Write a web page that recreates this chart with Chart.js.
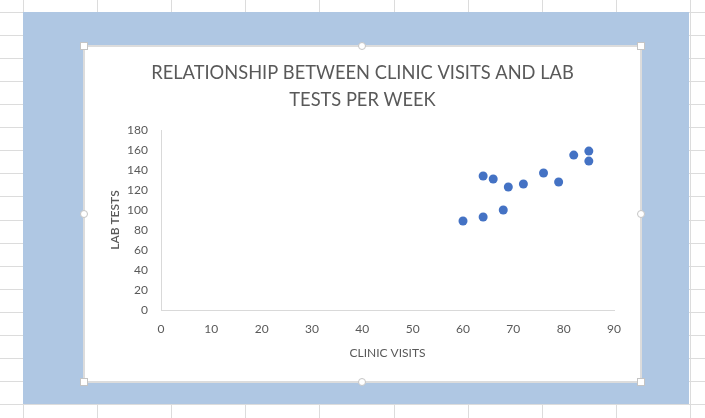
<!DOCTYPE html>
<html>
<head>
<meta charset="utf-8">
<script src="https://cdn.jsdelivr.net/npm/chart.js@4"></script>
<style>
  html, body { margin: 0; padding: 0; }
  body { width: 705px; height: 418px; position: relative; overflow: hidden; background: #fff; }
  .gl { position: absolute; background: #dcdcdc; }
  #blue { position: absolute; left: 23px; top: 12px; width: 666px; height: 392px; background: #afc7e3; }
  #box { position: absolute; left: 84px; top: 46px; width: 557px; height: 336px; background: #fff; }
  #frame { position: absolute; left: 83px; top: 45px; width: 555px; height: 334px; border: 2px solid #dcdcdc; pointer-events: none; }
  .h { position: absolute; width: 6px; height: 6px; background: #fff; border: 1px solid #c4c4c4; }
  .h.c { border-radius: 50%; }
  canvas { position: absolute; left: 0; top: 0; }
</style>
</head>
<body>
<div id="blue"></div>
<div id="box"><canvas id="scatterChart" width="557" height="336"></canvas></div>
<div id="frame"></div>
<script>
// data
const clinicVisits = [60, 64, 68, 64, 66, 69, 72, 76, 79, 82, 85, 85];
const labTests = [89, 93, 100, 134, 131, 123, 126, 137, 128, 155, 159, 149];
const chartTitle = ['RELATIONSHIP BETWEEN CLINIC VISITS AND LAB', 'TESTS PER WEEK'];
const xTitle = 'CLINIC VISITS';
const yTitle = 'LAB TESTS';

// spreadsheet grid behind the chart
for (let i = 0; i < 11; i++) {
    const d = document.createElement('div');
    d.className = 'gl';
    d.style.left = Math.round(23 + i * 74.1) + 'px';
    d.style.top = '0px';
    d.style.width = '1px';
    d.style.height = '418px';
    document.body.insertBefore(d, document.getElementById('blue'));
}
for (let j = 0; j < 19; j++) {
    const d = document.createElement('div');
    d.className = 'gl';
    d.style.left = '0px';
    d.style.top = Math.round(12 + j * 23.06) + 'px';
    d.style.width = '705px';
    d.style.height = '1px';
    document.body.insertBefore(d, document.getElementById('blue'));
}

// selection handles on the chart frame
[[84, 46, 0], [362, 46, 1], [641, 46, 0], [84, 214, 1], [641, 214, 1], [84, 382, 0], [362, 382, 1], [641, 382, 0]].forEach(function (p) {
    const h = document.createElement('div');
    h.className = 'h' + (p[2] ? ' c' : '');
    h.style.left = (p[0] - 4) + 'px';
    h.style.top = (p[1] - 4) + 'px';
    document.body.appendChild(h);
});

const textColor = '#595959';
const axisColor = '#d9d9d9';
const fontFamily = 'Lato, "Open Sans", sans-serif';

const points = clinicVisits.map((x, i) => ({ x: x, y: labTests[i] }));

new Chart(document.getElementById('scatterChart').getContext('2d'), {
    type: 'scatter',
    data: {
        datasets: [{
            label: 'Lab tests',
            data: points,
            backgroundColor: '#4472c4',
            borderColor: '#4472c4',
            borderWidth: 0,
            pointRadius: 4.5
        }]
    },
    options: {
        responsive: false,
        animation: false,
        layout: { padding: 0 },
        plugins: {
            legend: { display: false },
            tooltip: { enabled: false },
            title: {
                display: true,
                text: chartTitle,
                color: textColor,
                font: { family: fontFamily, size: 18.3, weight: 'normal', lineHeight: 1.45 },
                padding: { top: 14, bottom: 17 }
            }
        },
        scales: {
            x: {
                type: 'linear',
                min: 0,
                max: 90,
                grid: { display: false, drawTicks: false },
                border: { display: true, color: axisColor, width: 1 },
                ticks: { stepSize: 10, color: textColor, padding: 12, font: { family: fontFamily, size: 12 } },
                title: { display: true, text: xTitle, color: textColor, font: { family: fontFamily, size: 12 }, padding: { top: 0, bottom: 22 } },
                afterFit: function (scale) { scale.height = 72; }
            },
            y: {
                type: 'linear',
                min: 0,
                max: 180,
                grid: { display: false, drawTicks: false },
                border: { display: true, color: axisColor, width: 1 },
                ticks: { stepSize: 20, color: textColor, padding: 13, font: { family: fontFamily, size: 12 } },
                title: { display: true, text: yTitle, color: textColor, font: { family: fontFamily, size: 12, weight: '600' }, padding: { top: 24, bottom: 0 } },
                afterFit: function (scale) { scale.width = 77; }
            },
            // empty right-hand strip so the title stays centred on the whole frame
            yRight: {
                type: 'linear',
                position: 'right',
                grid: { display: false, drawTicks: false },
                border: { display: false },
                ticks: { display: false },
                afterFit: function (scale) { scale.width = 27; }
            }
        }
    }
});
</script>
</body>
</html>
